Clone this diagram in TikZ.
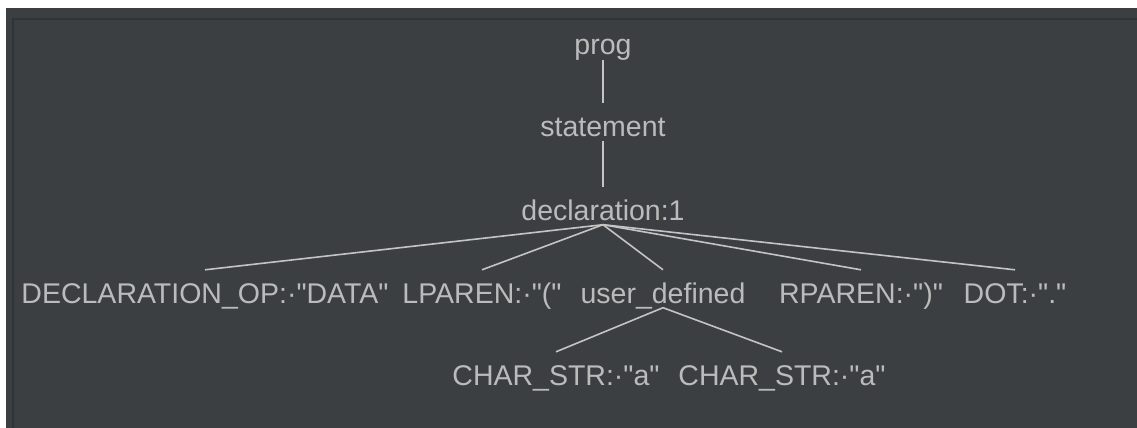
\documentclass[tikz,border=0pt]{standalone}
\usepackage{fontspec}
\newfontfamily\treefont{Liberation Sans}
\definecolor{panel}{HTML}{3C3F41}
\definecolor{panelrim}{HTML}{313335}
\definecolor{fg}{HTML}{BBBBBB}
\definecolor{edgecol}{HTML}{C4C4C4}
\tikzset{
  tnode/.style={anchor=base, inner sep=0pt, text height=33pt, text depth=4.5pt,
    text=fg, font=\treefont\fontsize{28.5}{32}\selectfont},
  tedge/.style={draw=edgecol, line width=1.6pt}
}
\begin{document}
\begin{tikzpicture}[x=1pt,y=-1pt]
\useasboundingbox (0,0) rectangle (1137,428);
\fill[white] (0,0) rectangle (1137,428);
\fill[panel] (6,8) rectangle (1137,428);
\draw[draw=panelrim, line width=2pt] (13,428) -- (13,19) -- (1137,19);

\node[tnode] (prog) at (603,55) {prog};
\node[tnode] (stmt) at (603,136) {statement};
\node[tnode] (decl) at (603,220) {declaration:1};
\node[tnode] (dop) at (205,303) {DECLARATION\_OP:·"DATA"};
\node[tnode] (lp) at (482,303) {LPAREN:·"("};
\node[tnode] (ud) at (663,303) {user\_defined};
\node[tnode] (rp) at (861,303) {RPAREN:·")"};
\node[tnode] (dot) at (1015,303) {DOT:·"."};
\node[tnode] (cs1) at (556,385) {CHAR\_STR:·"a"};
\node[tnode] (cs2) at (782,385) {CHAR\_STR:·"a"};

\draw[tedge] (prog.south) -- (stmt.north);
\draw[tedge] (stmt.south) -- (decl.north);
\foreach \c in {dop,lp,ud,rp,dot}
  \draw[tedge] (decl.south) -- (\c.north);
\draw[tedge] (ud.south) -- (cs1.north);
\draw[tedge] (ud.south) -- (cs2.north);
\end{tikzpicture}
\end{document}
